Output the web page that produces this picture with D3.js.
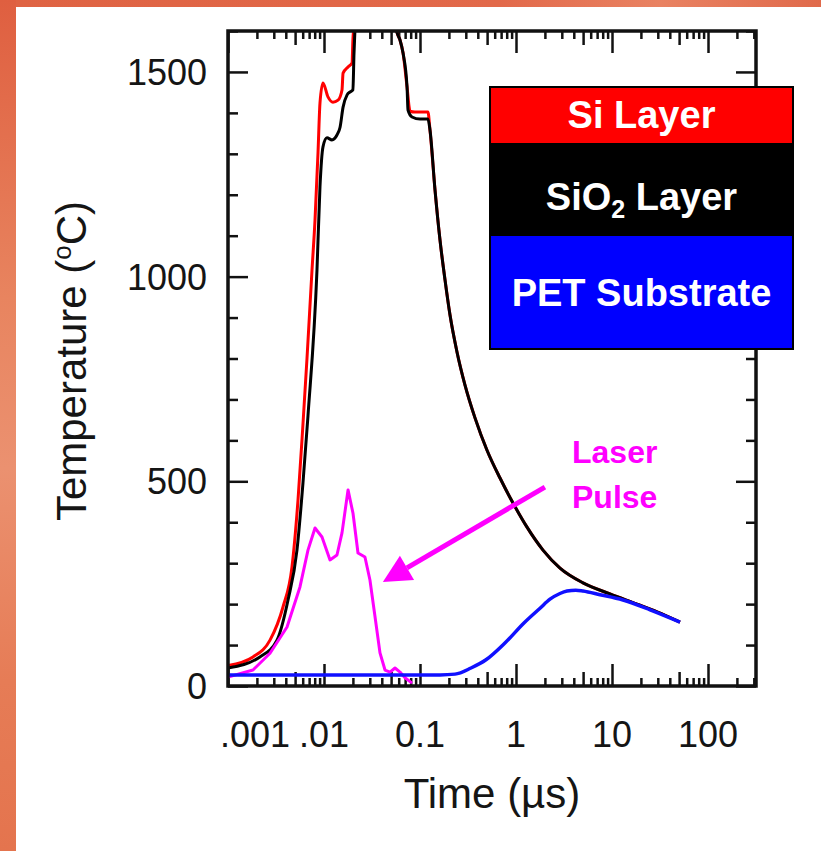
<!DOCTYPE html>
<html lang="en">
<head>
<meta charset="UTF-8">
<title>Temperature vs Time</title>
<script src="https://d3js.org/d3.v7.min.js"></script>
<style>
  body { margin: 0; padding: 0; background: #fff; }
  svg { display: block; font-family: 'Liberation Sans', Arial, sans-serif; }
  .tick-label { font-size: 36px; fill: #151515; }
  .axis-title { font-size: 42px; fill: #151515; }
  .legend-text { font-size: 38px; font-weight: bold; fill: #fff; }
  .note { font-size: 32px; font-weight: bold; fill: #ff00ff; }
  .axis path { display: none; }
  .axis line { stroke: #111; stroke-width: 2.5; }
</style>
</head>
<body>
<div id="chart"></div>
<script>
// time in microseconds, temperature in deg C
const siTime = [0.001, 0.00182, 0.00274, 0.00374, 0.00464, 0.00536, 0.00604, 0.00665, 0.0075, 0.00806, 0.00866, 0.00908, 0.00976, 0.0110, 0.0124, 0.0140, 0.0154, 0.0158, 0.0178, 0.0196, 0.0200, 0.0210, 0.030, 0.040, 0.050, 0.0575, 0.0619, 0.0666, 0.0733, 0.0788, 0.0887, 0.121, 0.1271, 0.1433, 0.1616, 0.1822, 0.2054, 0.2428, 0.2943, 0.374, 0.4988, 0.6813, 0.9306, 1.302, 1.91, 2.873, 4.988, 9.532, 18.21, 29.43, 51.08];
const siTemp = [50, 71, 112, 193, 291, 454, 640, 800, 1016, 1138, 1302, 1424, 1473, 1439, 1426, 1431, 1456, 1497, 1512, 1522, 1578, 1627, 1760, 1790, 1700, 1597, 1578, 1546, 1463, 1404, 1402, 1402, 1358, 1212, 1089, 992, 906, 816, 735, 655, 576, 508, 447, 388, 332, 288, 252, 225, 200, 181, 156];

const sio2Time = [0.001, 0.00215, 0.00324, 0.00422, 0.00523, 0.00604, 0.00681, 0.00845, 0.00908, 0.00976, 0.01074, 0.0121, 0.01365, 0.0147, 0.0158, 0.0174, 0.01867, 0.0200, 0.02054, 0.0210, 0.0216, 0.030, 0.040, 0.050, 0.0575, 0.0619, 0.0666, 0.0733, 0.075, 0.0826, 0.100, 0.121, 0.1271, 0.1433, 0.1616, 0.1822, 0.2054, 0.2428, 0.2943, 0.374, 0.4988, 0.6813, 0.9306, 1.302, 1.91, 2.873, 4.988, 9.532, 18.21, 29.43, 51.08];
const sio2Temp = [44, 71, 112, 210, 332, 496, 660, 1016, 1219, 1317, 1339, 1334, 1346, 1365, 1414, 1444, 1451, 1456, 1546, 1602, 1651, 1760, 1790, 1700, 1597, 1578, 1546, 1463, 1407, 1390, 1385, 1385, 1358, 1212, 1089, 992, 906, 816, 735, 655, 576, 508, 447, 388, 332, 288, 252, 225, 200, 181, 156];

const petTime = [0.001, 0.1616, 0.232, 0.340, 0.487, 0.767, 1.21, 1.78, 2.26, 2.87, 3.40, 4.20, 4.99, 7.50, 13.0, 24.9, 51.1];
const petTemp = [27, 27, 29, 44, 64, 105, 154, 190, 212, 226, 232, 234, 232, 223, 210, 186, 156];

const laserTime = [0.001, 0.00182, 0.00274, 0.00412, 0.00562, 0.00681, 0.00806, 0.00953, 0.01155, 0.01365, 0.0154, 0.0178, 0.02005, 0.0226, 0.0267, 0.0301, 0.0340, 0.0383, 0.0432, 0.0487, 0.0549, 0.0619, 0.0698, 0.0826];
const laserTemp = [22, 39, 80, 144, 242, 332, 386, 364, 308, 320, 374, 479, 422, 325, 315, 259, 169, 81, 39, 34, 44, 34, 20, 7];

const xTickValues = [0.001, 0.01, 0.1, 1, 10, 100];
const xTickLabels = [".001", ".01", "0.1", "1", "10", "100"];
const yTickValues = [0, 500, 1000, 1500];

const legendLabels = ["Si Layer", "SiO2 Layer", "PET Substrate"];
const legendColors = ["#ff0000", "#000000", "#0000ff"];

// annotation: arrow from (time, temp) to (time, temp), and label anchor
const arrowFrom = [2.0, 486];
const arrowTo = [0.041, 254];
const noteLines = ["Laser", "Pulse"];
const noteAt = [3.83, 545];

const W = 821, H = 851;
const svg = d3.select("#chart").append("svg")
    .attr("width", W)
    .attr("height", H);

// orange slide background
const defs = svg.append("defs");
const gLeft = defs.append("linearGradient").attr("id", "gLeft")
    .attr("x1", 0).attr("y1", 0).attr("x2", 0).attr("y2", 1);
[["0%", "#df5f40"], ["35%", "#e8845f"], ["55%", "#eb9170"], ["80%", "#e67c56"], ["100%", "#e4744e"]]
    .forEach(s => gLeft.append("stop").attr("offset", s[0]).attr("stop-color", s[1]));
const gTop = defs.append("linearGradient").attr("id", "gTop")
    .attr("x1", 0).attr("y1", 0).attr("x2", 1).attr("y2", 0);
[["0%", "#df6343"], ["60%", "#e2694a"], ["80%", "#e98262"], ["100%", "#e06a4b"]]
    .forEach(s => gTop.append("stop").attr("offset", s[0]).attr("stop-color", s[1]));

svg.append("rect").attr("width", W).attr("height", H).attr("fill", "url(#gLeft)");
svg.append("rect").attr("x", 16).attr("width", W - 16).attr("height", 7).attr("fill", "url(#gTop)");
svg.append("rect").attr("x", 16).attr("y", 7).attr("width", W - 16).attr("height", H - 7).attr("fill", "#fff");

const x = d3.scaleLog().domain([0.001, 316.2]).range([228, 756]);
const y = d3.scaleLinear().domain([0, 1600]).range([686, 31]);

const [x0, x1] = x.range();
const [y0, y1] = y.range();

defs.append("clipPath").attr("id", "plotClip")
    .append("rect")
    .attr("x", x0).attr("y", y1)
    .attr("width", x1 - x0).attr("height", y0 - y1);

// tick classes on the log axis
const allX = x.ticks();
const mant = v => Math.round(v / Math.pow(10, Math.floor(Math.log10(v) + 1e-9)));
const xLong = allX.filter(v => mant(v) === 1);
const xMid = allX.filter(v => mant(v) === 5);
const xShort = allX.filter(v => mant(v) !== 1 && mant(v) !== 5);

function addX(axisFn, ypos, vals, len) {
    svg.append("g").attr("class", "axis")
        .attr("transform", "translate(0," + ypos + ")")
        .call(axisFn(x).tickValues(vals).tickSize(-len).tickFormat(""));
}
addX(d3.axisBottom, y0, xLong, 22);
addX(d3.axisBottom, y0, xMid, 14);
addX(d3.axisBottom, y0, xShort, 8);
addX(d3.axisTop, y1, xLong, 22);
addX(d3.axisTop, y1, xMid, 14);
addX(d3.axisTop, y1, xShort, 8);

const yMinor = d3.range(0, 1601, 100).filter(v => v % 500 !== 0);
function addY(axisFn, xpos, vals, len) {
    svg.append("g").attr("class", "axis")
        .attr("transform", "translate(" + xpos + ",0)")
        .call(axisFn(y).tickValues(vals).tickSize(-len).tickFormat(""));
}
addY(d3.axisLeft, x0, yTickValues, 20);
addY(d3.axisLeft, x0, yMinor, 10);
addY(d3.axisRight, x1, yTickValues, 20);
addY(d3.axisRight, x1, yMinor, 10);

// tick labels
svg.append("g").selectAll("text")
    .data(xTickValues)
    .join("text")
    .attr("class", "tick-label")
    .attr("x", (d, i) => x(d) + (i === 0 ? 27 : 0))
    .attr("y", 747)
    .attr("text-anchor", "middle")
    .text((d, i) => xTickLabels[i]);

svg.append("g").selectAll("text")
    .data(yTickValues)
    .join("text")
    .attr("class", "tick-label")
    .attr("x", x0 - 21)
    .attr("y", d => y(d))
    .attr("dy", "0.36em")
    .attr("text-anchor", "end")
    .text(d => d);

// axis titles
svg.append("text")
    .attr("class", "axis-title")
    .attr("x", (x0 + x1) / 2)
    .attr("y", 808)
    .attr("text-anchor", "middle")
    .text("Time (\u00b5s)");

const yt = svg.append("text")
    .attr("class", "axis-title")
    .attr("transform", "translate(86," + 361 + ") rotate(-90)")
    .attr("text-anchor", "middle");
yt.append("tspan").text("Temperature (");
yt.append("tspan").attr("font-size", 26).attr("dy", -15).text("o");
yt.append("tspan").attr("dy", 15).text("C)");

// curves
const toPts = (ts, vs) => ts.map((t, i) => ({ t: t, v: vs[i] }));
const smooth = d3.line().x(d => x(d.t)).y(d => y(d.v)).curve(d3.curveMonotoneX);
const sharp = d3.line().x(d => x(d.t)).y(d => y(d.v));

const plot = svg.append("g").attr("clip-path", "url(#plotClip)");
plot.append("path").datum(toPts(siTime, siTemp))
    .attr("d", smooth).attr("fill", "none").attr("stroke", "#ff0000").attr("stroke-width", 3);
plot.append("path").datum(toPts(sio2Time, sio2Temp))
    .attr("d", smooth).attr("fill", "none").attr("stroke", "#000").attr("stroke-width", 3);
plot.append("path").datum(toPts(laserTime, laserTemp))
    .attr("d", sharp).attr("fill", "none").attr("stroke", "#ff00ff").attr("stroke-width", 3)
    .attr("stroke-linejoin", "round");
plot.append("path").datum(toPts(petTime, petTemp))
    .attr("d", smooth).attr("fill", "none").attr("stroke", "#1010ff").attr("stroke-width", 3.5);

// frame
svg.append("rect")
    .attr("x", x0).attr("y", y1)
    .attr("width", x1 - x0).attr("height", y0 - y1)
    .attr("fill", "none").attr("stroke", "#111").attr("stroke-width", 3.5);

// laser pulse arrow
const ax = x(arrowFrom[0]), ay = y(arrowFrom[1]);
const bx = x(arrowTo[0]), by = y(arrowTo[1]);
const len = Math.hypot(bx - ax, by - ay);
const ux = (bx - ax) / len, uy = (by - ay) / len;
const headL = 28, headW = 14;
const cx = bx - ux * headL, cy = by - uy * headL;
svg.append("line")
    .attr("x1", ax).attr("y1", ay).attr("x2", cx).attr("y2", cy)
    .attr("stroke", "#ff00ff").attr("stroke-width", 5);
svg.append("polygon")
    .attr("points", [[bx, by], [cx - uy * headW, cy + ux * headW], [cx + uy * headW, cy - ux * headW]].join(" "))
    .attr("fill", "#ff00ff");

svg.append("g").selectAll("text")
    .data(noteLines)
    .join("text")
    .attr("class", "note")
    .attr("x", x(noteAt[0]))
    .attr("y", (d, i) => y(noteAt[1]) + i * 45)
    .text(d => d);

// legend
const bandH = [56, 93, 113];
const legX = 490, legY = 87, legW = 303;
const bandY = bandH.map((h, i) => legY + d3.sum(bandH.slice(0, i)));
const leg = svg.append("g");
leg.selectAll("rect")
    .data(legendLabels)
    .join("rect")
    .attr("x", legX)
    .attr("y", (d, i) => bandY[i])
    .attr("width", legW)
    .attr("height", (d, i) => bandH[i])
    .attr("fill", (d, i) => legendColors[i]);
leg.append("rect")
    .attr("x", legX).attr("y", legY)
    .attr("width", legW).attr("height", d3.sum(bandH))
    .attr("fill", "none").attr("stroke", "#000").attr("stroke-width", 2);

leg.selectAll("text")
    .data(legendLabels)
    .join("text")
    .attr("class", "legend-text")
    .attr("x", legX + legW / 2)
    .attr("y", (d, i) => bandY[i] + bandH[i] / 2 + (i === 1 ? 20 : 13))
    .attr("text-anchor", "middle")
    .each(function (d) {
        const t = d3.select(this);
        if (d === "SiO2 Layer") {
            t.append("tspan").text("SiO");
            t.append("tspan").attr("font-size", 25).attr("dy", 8).text("2");
            t.append("tspan").attr("dy", -8).text(" Layer");
        } else {
            t.text(d);
        }
    });
</script>
</body>
</html>
